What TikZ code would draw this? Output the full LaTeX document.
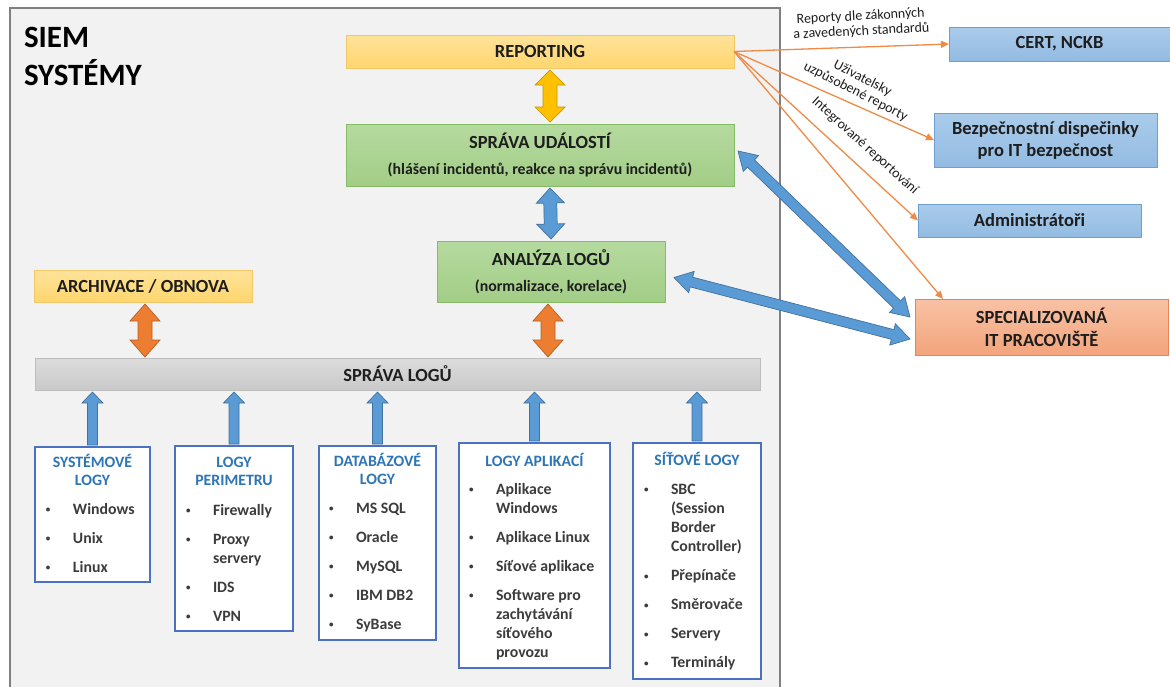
\documentclass[tikz,border=0pt]{standalone}
\usepackage{fontspec}
\setmainfont{Carlito}
\usetikzlibrary{calc,arrows.meta}

\definecolor{bggray}{HTML}{F2F2F2}
\definecolor{framegray}{HTML}{808080}
\definecolor{txt}{HTML}{1E1E1E}
\definecolor{itemtxt}{HTML}{3C3C3C}
\definecolor{titleblue}{HTML}{2E75B6}
\definecolor{logline}{HTML}{4A72C0}
\definecolor{reptop}{HTML}{FFE39A}
\definecolor{repbot}{HTML}{FFD66E}
\definecolor{repline}{HTML}{F4C66A}
\definecolor{grntop}{HTML}{B5DA9F}
\definecolor{grnbot}{HTML}{A2CD86}
\definecolor{grnline}{HTML}{86BC66}
\definecolor{graytop}{HTML}{DCDCDC}
\definecolor{graybot}{HTML}{C9C9C9}
\definecolor{grayline}{HTML}{BDBDBD}
\definecolor{bluetop}{HTML}{AACCEB}
\definecolor{bluebot}{HTML}{93BBE2}
\definecolor{blueline}{HTML}{6E9FD2}
\definecolor{saltop}{HTML}{F8C2A4}
\definecolor{salbot}{HTML}{F3A47C}
\definecolor{salline}{HTML}{E8844E}
\definecolor{arrblue}{HTML}{5B9BD5}
\definecolor{arrblueline}{HTML}{41719C}
\definecolor{arrorange}{HTML}{ED7D31}
\definecolor{arrorangeline}{HTML}{B95F22}
\definecolor{arryellow}{HTML}{FFC000}
\definecolor{arryellowline}{HTML}{C89600}
\definecolor{linkorange}{HTML}{F08A45}

% double-headed block arrow: style, end A, end B, shaft half width, head half width, head length
\newcommand\blockdbl[6]{%
  \draw[#1] (#2)
    -- ($(#2)!#6!(#3)!#5!90:(#3)$)
    -- ($(#2)!#6!(#3)!#4!90:(#3)$)
    -- ($(#3)!#6!(#2)!#4!-90:(#2)$)
    -- ($(#3)!#6!(#2)!#5!-90:(#2)$)
    -- (#3)
    -- ($(#3)!#6!(#2)!#5!90:(#2)$)
    -- ($(#3)!#6!(#2)!#4!90:(#2)$)
    -- ($(#2)!#6!(#3)!#4!-90:(#3)$)
    -- ($(#2)!#6!(#3)!#5!-90:(#3)$)
    -- cycle;}
% single-headed block arrow: style, tail, tip, shaft half width, head half width, head length
\newcommand\blocksgl[6]{%
  \draw[#1] ($(#2)!#4!90:(#3)$)
    -- ($(#3)!#6!(#2)!#4!-90:(#2)$)
    -- ($(#3)!#6!(#2)!#5!-90:(#2)$)
    -- (#3)
    -- ($(#3)!#6!(#2)!#5!90:(#2)$)
    -- ($(#3)!#6!(#2)!#4!90:(#2)$)
    -- ($(#2)!#4!-90:(#3)$)
    -- cycle;}

% bulleted list entries inside the log boxes
\newcommand\itm[1]{\makebox[28pt][l]{\hspace{1pt}\raisebox{1.5pt}{\fontsize{9}{9}\selectfont\textbullet}}#1}
\newcommand\cnt[1]{\hspace*{28pt}#1}

\begin{document}
\begin{tikzpicture}[x=1pt,y=-1pt,
  every node/.style={inner sep=0pt,outer sep=0pt},
  frame/.style={draw=framegray,line width=1.6pt,fill=bggray},
  repbox/.style={draw=repline,line width=0.8pt,top color=reptop,bottom color=repbot,
    text=txt,font=\fontsize{18.5}{22}\selectfont\bfseries},
  grnbox/.style={draw=grnline,line width=0.8pt,top color=grntop,bottom color=grnbot},
  graybar/.style={draw=grayline,line width=0.8pt,top color=graytop,bottom color=graybot,
    text=txt,font=\fontsize{18.5}{22}\selectfont\bfseries},
  bluebox/.style={draw=blueline,line width=0.8pt,top color=bluetop,bottom color=bluebot,
    text=txt,align=center,font=\fontsize{18.5}{22}\selectfont\bfseries},
  salbox/.style={draw=salline,line width=0.8pt,top color=saltop,bottom color=salbot,
    text=txt,align=center,font=\fontsize{18.5}{23}\selectfont\bfseries},
  bigtxt/.style={text=txt,font=\fontsize{18.5}{22}\selectfont\bfseries},
  subtxt/.style={text=txt,font=\fontsize{15.8}{19}\selectfont\bfseries},
  logbox/.style={draw=logline,line width=1.6pt,fill=white},
  logtitle/.style={text=titleblue,align=center,font=\fontsize{15.8}{18.5}\selectfont\bfseries},
  logitems/.style={text=itemtxt,align=left,font=\fontsize{15.8}{19.2}\selectfont\bfseries},
  linklabel/.style={text=txt,align=center,font=\fontsize{14}{15}\selectfont},
  link/.style={draw=linkorange,line width=1.3pt,-{Triangle[length=8pt,width=7pt]}},
  bluearr/.style={fill=arrblue,draw=arrblueline,line width=0.7pt,line join=miter},
  orangearr/.style={fill=arrorange,draw=arrorangeline,line width=0.7pt},
  yellowarr/.style={fill=arryellow,draw=arryellowline,line width=0.7pt}
]
\useasboundingbox (0,0) rectangle (1170,686);
\fill[white] (0,0) rectangle (1170,686);

% system frame
\draw[frame] (10,8) rectangle (780,700);
\node[anchor=north west,align=left,text=black,font=\fontsize{31}{38}\selectfont\bfseries]
  (siem) at (24,27) {SIEM\\SYSTÉMY};

% central processing chain
\node[repbox,minimum width=388pt,minimum height=33pt,anchor=north west] (rep) at (346,35) {REPORTING};
\node[grnbox,minimum width=388pt,minimum height=62pt,anchor=north west] (spr) at (346,124) {};
\node[bigtxt] (sprt) at ($(spr.north)+(0,17)$) {SPRÁVA UDÁLOSTÍ};
\node[subtxt] (sprs) at ($(spr.north)+(0,46)$) {(hlášení incidentů, reakce na správu incidentů)};
\node[grnbox,minimum width=228pt,minimum height=61pt,anchor=north west] (ana) at (437,241) {};
\node[bigtxt] (anat) at ($(ana.north)+(0,17)$) {ANALÝZA LOGŮ};
\node[subtxt] (anas) at ($(ana.north)+(0,46)$) {(normalizace, korelace)};
\node[repbox,minimum width=218pt,minimum height=32pt,anchor=north west] (arch) at (34,270) {ARCHIVACE / OBNOVA};
\node[graybar,minimum width=725pt,minimum height=32pt,anchor=north west] (bar) at (35,358) {SPRÁVA LOGŮ};

% log sources
\node[logbox,minimum width=115pt,minimum height=135pt,anchor=north west] (sys) at (35,447) {};
\node[logbox,minimum width=118pt,minimum height=185pt,anchor=north west] (per) at (175,446) {};
\node[logbox,minimum width=117pt,minimum height=194pt,anchor=north west] (dbs) at (319,446) {};
\node[logbox,minimum width=151pt,minimum height=225pt,anchor=north west] (app) at (459,443) {};
\node[logbox,minimum width=128pt,minimum height=236pt,anchor=north west] (net) at (633,443) {};

\node[logtitle,anchor=north] (syst) at ($(sys.north)+(0,7)$) {SYSTÉMOVÉ\\LOGY};
\node[logtitle,anchor=north] (pert) at ($(per.north)+(0,11)$) {LOGY\\PERIMETRU};
\node[logtitle,anchor=north] (dbt) at ($(dbs.north)+(0,7)$) {DATABÁZOVÉ\\LOGY};
\node[logtitle,anchor=north] (appt) at ($(app.north)+(0,10)$) {LOGY APLIKACÍ};
\node[logtitle,anchor=north] (nett) at ($(net.north)+(0,9)$) {SÍŤOVÉ LOGY};

\node[logitems,anchor=north west] (sysi) at ($(sys.north west)+(10,56)$)
  {\itm{Windows}\\[9.8pt]\itm{Unix}\\[9.8pt]\itm{Linux}};
\node[logitems,anchor=north west] (peri) at ($(per.north west)+(10,58)$)
  {\itm{Firewally}\\[9.8pt]\itm{Proxy}\\\cnt{servery}\\[9.8pt]\itm{IDS}\\[9.8pt]\itm{VPN}};
\node[logitems,anchor=north west] (dbi) at ($(dbs.north west)+(9,57)$)
  {\itm{MS SQL}\\[9.8pt]\itm{Oracle}\\[9.8pt]\itm{MySQL}\\[9.8pt]\itm{IBM DB2}\\[9.8pt]\itm{SyBase}};
\node[logitems,anchor=north west] (appi) at ($(app.north west)+(9,40)$)
  {\itm{Aplikace}\\\cnt{Windows}\\[9.8pt]\itm{Aplikace Linux}\\[9.8pt]\itm{Síťové aplikace}\\[9.8pt]%
   \itm{Software pro}\\\cnt{zachytávání}\\\cnt{síťového}\\\cnt{provozu}};
\node[logitems,anchor=north west] (neti) at ($(net.north west)+(10,41)$)
  {\itm{SBC}\\\cnt{(Session}\\\cnt{Border}\\\cnt{Controller)}\\[9.8pt]\itm{Přepínače}\\[9.8pt]%
   \itm{Směrovače}\\[9.8pt]\itm{Servery}\\[9.8pt]\itm{Terminály}};

% report recipients
\node[bluebox,minimum width=221pt,minimum height=34pt,anchor=north west] (cert) at (949,27) {CERT, NCKB};
\node[bluebox,minimum width=223pt,minimum height=54pt,anchor=north west] (bez) at (934,113) {Bezpečnostní dispečinky\\pro IT bezpečnost};
\node[bluebox,minimum width=223pt,minimum height=33pt,anchor=north west] (adm) at (918,204) {Administrátoři};
\node[salbox,minimum width=253pt,minimum height=56pt,anchor=north west] (spec) at (915,299) {SPECIALIZOVANÁ\\IT PRACOVIŠTĚ};

% reporting links
\coordinate (specin) at ($(spec.north west)+(28,0)$);
\draw[link] (rep.east) -- (specin);
\draw[link] (rep.east) -- (adm.west);
\draw[link] (rep.east) -- (bez.west);
\draw[link] (rep.east) -- (cert.west);
\node[linklabel,rotate=3] (l1) at (861,24) {Reporty dle zákonných\\a zavedených standardů};
\node[linklabel,rotate=-27] (l2) at (859,85) {Uživatelsky\\uzpůsobené reporty};
\node[linklabel,rotate=-42] (l3) at (865,146) {Integrované reportování};

% block arrows inside the system
\coordinate (ya) at ($(rep.south)+(10,2)$);
\coordinate (yb) at ($(spr.north)+(10,-2)$);
\blockdbl{yellowarr}{ya}{yb}{7pt}{15pt}{15pt}
\coordinate (ba) at ($(spr.south)+(10,2)$);
\coordinate (bb) at ($(ana.north)+(0,-2)$);
\blockdbl{bluearr}{ba}{bb}{6.5pt}{14pt}{15pt}
\coordinate (oa) at ($(arch.south)+(2,2)$);
\coordinate (ob) at ($(arch.south |- bar.north)+(2,-1)$);
\blockdbl{orangearr}{oa}{ob}{7pt}{15pt}{17pt}
\coordinate (oc) at ($(ana.south)+(-3,2)$);
\coordinate (od) at ($(ana.south |- bar.north)+(-3,-1)$);
\blockdbl{orangearr}{oc}{od}{7pt}{15pt}{17pt}

% arrows towards the specialised workplaces
\coordinate (dg1a) at ($(spr.east)+(4,-4)$);
\coordinate (dg1b) at ($(spec.west)+(-5,-10)$);
\blockdbl{bluearr}{dg1a}{dg1b}{5pt}{11pt}{18pt}
\coordinate (dg2a) at ($(ana.east)+(9,6)$);
\coordinate (dg2b) at ($(spec.west)+(-5,12)$);
\blockdbl{bluearr}{dg2a}{dg2b}{5pt}{11pt}{18pt}

% log sources feeding log management
\foreach \b in {sys,per,dbs,app,net}{
  \coordinate (\b-t) at ($(\b.north)+(0,-2)$);
  \coordinate (\b-h) at ($(\b.north |- bar.south)+(0,2)$);
  \blocksgl{bluearr}{\b-t}{\b-h}{5pt}{10.5pt}{11pt}
}
\end{tikzpicture}
\end{document}
